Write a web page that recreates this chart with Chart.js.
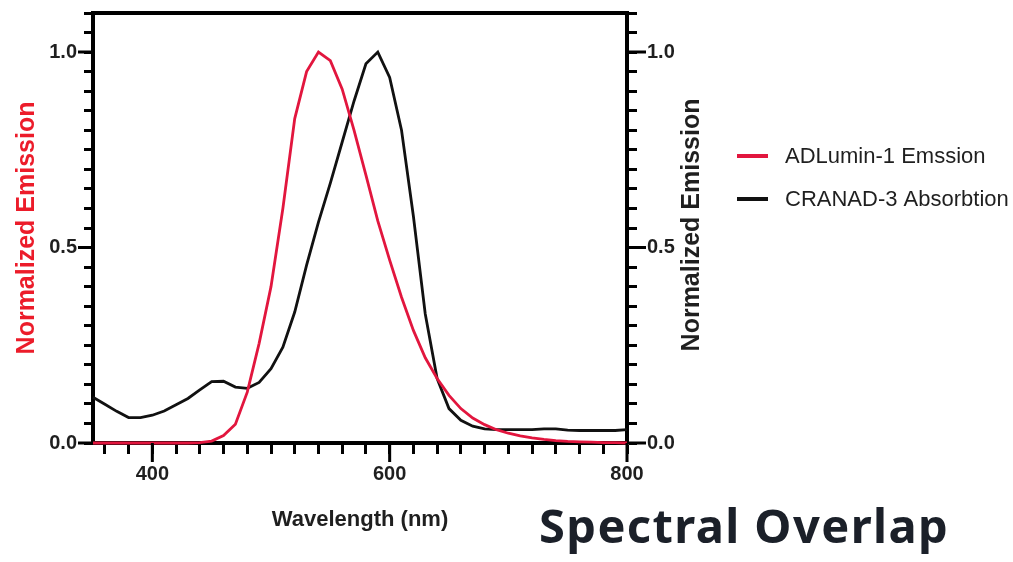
<!DOCTYPE html>
<html>
<head>
<meta charset="utf-8">
<script src="https://cdn.jsdelivr.net/npm/chart.js@4.4.1/dist/chart.umd.min.js"></script>
<style>
html,body{margin:0;padding:0;background:#fff;width:1013px;height:562px;overflow:hidden;}
#wrap{position:relative;width:1013px;height:562px;}
#c{position:absolute;left:0;top:0;}
#title{position:absolute;left:539px;top:503px;font-family:"Noto Sans","Open Sans",sans-serif;font-weight:700;font-size:47px;letter-spacing:1.4px;line-height:44px;color:#1b2029;white-space:nowrap;}
</style>
</head>
<body>
<div id="wrap">
<canvas id="c" width="1013" height="562"></canvas>
<div id="title">Spectral Overlap</div>
</div>
<script>
// ---- data ----
const wavelengths = [350,360,370,380,390,400,410,420,430,440,450,460,470,480,490,500,510,520,530,540,550,560,570,580,590,600,610,620,630,640,650,660,670,680,690,700,710,720,730,740,750,760,770,780,790,800];
const emissionADLumin1 = [0,0,0,0,0,0,0,0,0,0.001,0.005,0.019,0.048,0.13,0.255,0.40,0.60,0.83,0.95,1.0,0.978,0.905,0.80,0.685,0.568,0.468,0.373,0.288,0.218,0.165,0.122,0.088,0.064,0.047,0.034,0.025,0.018,0.013,0.009,0.006,0.004,0.003,0.002,0.001,0.001,0];
const absorptionCRANAD3 = [0.117,0.099,0.081,0.065,0.065,0.071,0.082,0.098,0.114,0.136,0.157,0.158,0.143,0.140,0.155,0.19,0.245,0.335,0.455,0.565,0.665,0.77,0.875,0.97,1.0,0.935,0.80,0.58,0.33,0.165,0.088,0.058,0.043,0.036,0.034,0.034,0.034,0.034,0.036,0.036,0.033,0.032,0.032,0.032,0.032,0.034];
const seriesLabels = ["ADLumin-1 Emssion", "CRANAD-3 Absorbtion"];
const xMajorTicks = [400, 600, 800];
const xMinorStep = 20;
const yMajorTicks = [0, 0.5, 1.0];
const yMinorStep = 0.05;
const xRange = [350, 800];
const yRange = [0, 1.1];

const RED = '#e2163e';
const INK = '#1f1f1f';
Chart.defaults.font.family = '"Liberation Sans", Arial, sans-serif';

function buildTicks(min, max, step, start) {
  const out = [];
  for (let v = start; v <= max + 1e-9; v += step) out.push({value: Math.round(v * 1000) / 1000});
  return out;
}
const isMajor = (arr, v) => arr.some(m => Math.abs(m - v) < 1e-6);

const majorTickPlugin = {
  id: 'majorTicks',
  afterDraw(chart) {
    const ctx = chart.ctx;
    const {x, y, y2} = chart.scales;
    ctx.save();
    ctx.strokeStyle = '#000';
    ctx.lineWidth = 3;
    ctx.beginPath();
    xMajorTicks.forEach(v => { const p = x.getPixelForValue(v); ctx.moveTo(p, x.top); ctx.lineTo(p, x.top + 19); });
    yMajorTicks.forEach(v => { const p = y.getPixelForValue(v); ctx.moveTo(y.right, p); ctx.lineTo(y.right - 15, p); });
    yMajorTicks.forEach(v => { const p = y2.getPixelForValue(v); ctx.moveTo(y2.left, p); ctx.lineTo(y2.left + 19, p); });
    ctx.stroke();
    // right axis title (reads bottom-to-top like the left one)
    ctx.fillStyle = INK;
    ctx.font = 'bold 25px "Liberation Sans", Arial, sans-serif';
    ctx.textAlign = 'center';
    ctx.textBaseline = 'middle';
    ctx.translate(692, 225);
    ctx.rotate(-Math.PI / 2);
    ctx.fillText('Normalized Emission', 0, 0);
    ctx.restore();
    // legend
    ctx.save();
    ctx.font = '22px "Liberation Sans", Arial, sans-serif';
    ctx.textBaseline = 'middle';
    ctx.textAlign = 'left';
    chart.data.datasets.forEach((ds, i) => {
      const ly = 156 + i * 43;
      ctx.strokeStyle = ds.borderColor;
      ctx.lineWidth = 4;
      ctx.beginPath(); ctx.moveTo(737, ly); ctx.lineTo(768, ly); ctx.stroke();
      ctx.fillStyle = INK;
      ctx.fillText(ds.label, 785, ly + 1);
    });
    ctx.restore();
  }
};

new Chart(document.getElementById('c'), {
  type: 'line',
  data: {
    datasets: [
      {label: seriesLabels[0], data: wavelengths.map((w, i) => ({x: w, y: emissionADLumin1[i]})), borderColor: RED, borderWidth: 2.8, pointRadius: 0, tension: 0, yAxisID: 'y', clip: 6},
      {label: seriesLabels[1], data: wavelengths.map((w, i) => ({x: w, y: absorptionCRANAD3[i]})), borderColor: '#111111', borderWidth: 2.8, pointRadius: 0, tension: 0, yAxisID: 'y2', clip: 6}
    ]
  },
  options: {
    responsive: false,
    animation: false,
    events: [],
    layout: {padding: {left: 0, top: 13, right: 296, bottom: 19}},
    plugins: {legend: {display: false}, tooltip: {enabled: false}},
    scales: {
      x: {
        type: 'linear', position: 'bottom', min: xRange[0], max: xRange[1],
        afterBuildTicks: s => { s.ticks = buildTicks(xRange[0], xRange[1], xMinorStep, 360); },
        afterFit: s => { s.height = 100; s.paddingLeft = 0; s.paddingRight = 0; },
        grid: {drawOnChartArea: false, drawTicks: true, tickLength: 11, tickWidth: 3, tickColor: '#000'},
        border: {display: true, width: 4, color: '#000'},
        ticks: {autoSkip: false, maxRotation: 0, padding: 8, color: INK, font: {size: 20, weight: 'bold'},
          callback: v => isMajor(xMajorTicks, v) ? String(v) : ''},
        title: {display: true, text: 'Wavelength (nm)', color: INK, font: {size: 22, weight: 'bold'}, padding: {top: 0, bottom: 10}}
      },
      x2: {
        type: 'linear', position: 'top', min: xRange[0], max: xRange[1],
        afterFit: s => { s.height = 0; s.paddingLeft = 0; s.paddingRight = 0; },
        grid: {display: false, drawTicks: false},
        border: {display: true, width: 4, color: '#000'},
        ticks: {display: false}
      },
      y: {
        type: 'linear', position: 'left', min: yRange[0], max: yRange[1],
        afterBuildTicks: s => { s.ticks = buildTicks(yRange[0], yRange[1], yMinorStep, 0); },
        afterFit: s => { s.width = 93; s.paddingTop = 0; s.paddingBottom = 0; },
        grid: {drawOnChartArea: false, drawTicks: true, tickLength: 9, tickWidth: 3, tickColor: '#000'},
        border: {display: true, width: 4, color: '#000'},
        ticks: {autoSkip: false, padding: 7, color: INK, font: {size: 20, weight: 'bold'},
          callback: v => isMajor(yMajorTicks, v) ? v.toFixed(1) : ''},
        title: {display: true, text: 'Normalized Emission', color: '#ec1c2a', font: {size: 25, weight: 'bold'}, padding: {top: 12, bottom: 0}}
      },
      y2: {
        type: 'linear', position: 'right', min: yRange[0], max: yRange[1],
        afterBuildTicks: s => { s.ticks = buildTicks(yRange[0], yRange[1], yMinorStep, 0); },
        afterFit: s => { s.width = 90; s.paddingTop = 0; s.paddingBottom = 0; },
        grid: {drawOnChartArea: false, drawTicks: true, tickLength: 10, tickWidth: 3, tickColor: '#000'},
        border: {display: true, width: 4, color: '#000'},
        ticks: {autoSkip: false, padding: 10, color: INK, font: {size: 20, weight: 'bold'},
          callback: v => isMajor(yMajorTicks, v) ? v.toFixed(1) : ''},
        title: {display: false}
      }
    }
  },
  plugins: [majorTickPlugin]
});
</script>
</body>
</html>
